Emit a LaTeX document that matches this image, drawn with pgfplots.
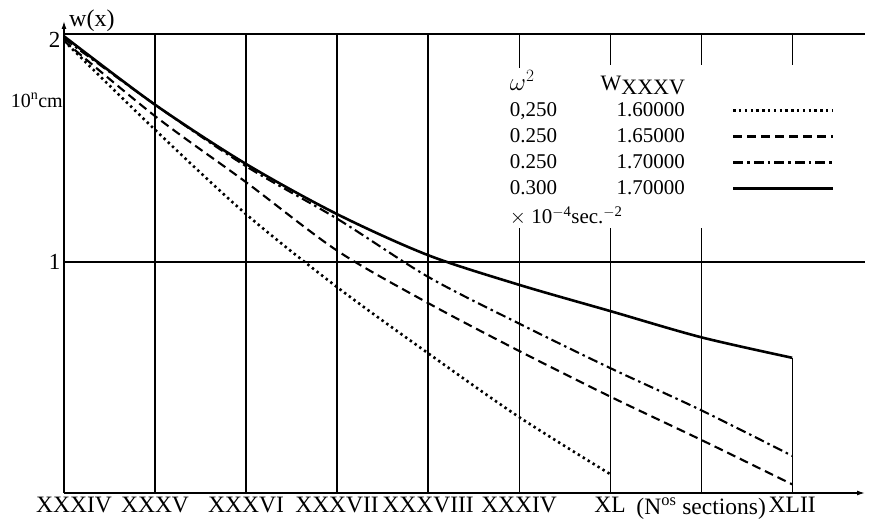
\documentclass[border=0pt]{standalone}
\usepackage{fontspec}
\setmainfont{Liberation Serif}
\usepackage{pgfplots}
\pgfplotsset{compat=1.18}
\usetikzlibrary{arrows.meta}
\begin{document}
\begin{tikzpicture}
\useasboundingbox (-64pt,-26pt) rectangle (808pt,493pt);
\begin{axis}[
  at={(0,0)}, anchor=south west,
  scale only axis, width=801pt, height=459pt,
  xmin=0, xmax=8.8, ymin=-0.013, ymax=2,
  clip=false,
  axis lines=left,
  axis line style={line width=1.4pt, -{Latex[length=8pt,width=5pt]}},
  y axis line style={shorten >=-13pt},
  xtick={1,...,8},
  xticklabels={XXXV,XXXVI,XXXVII,XXXVIII,XXXIV,XL,(N\textsuperscript{os} sections),XLII},
  extra x ticks={0},
  extra x tick labels={XXXIV},
  extra x tick style={xticklabel style={xshift=10pt}},
  ytick={1}, yticklabels={1},
  extra y ticks={2},
  extra y tick labels={2},
  extra y tick style={yticklabel style={yshift=-6pt}, grid=major},
  major tick length=0pt,
  ymajorgrids,
  grid style={black, line width=1.2pt},
  xticklabel style={font=\fontsize{23.5}{24}\selectfont, anchor=north, yshift=-1pt},
  yticklabel style={font=\fontsize{23}{24}\selectfont},
  legend style={draw=none, fill=none, at={(0.554,0.925)}, anchor=north west,
    font=\fontsize{21}{22}\selectfont, column sep=45pt, row sep=6.5pt, inner sep=0pt},
  legend cell align=left,
  legend plot pos=right,
  legend image code/.code={\draw[#1] (0pt,0pt) -- (100pt,0pt);},
]
% vertical grid lines (interrupted behind the legend as in the reference)
\draw[black, line width=1.2pt] (axis cs:1,-0.013) -- (axis cs:1,2);
\draw[black, line width=1.2pt] (axis cs:2,-0.013) -- (axis cs:2,2);
\draw[black, line width=1.2pt] (axis cs:3,-0.013) -- (axis cs:3,2);
\draw[black, line width=1.2pt] (axis cs:4,-0.013) -- (axis cs:4,2);
\draw[black, line width=1.2pt] (axis cs:5,-0.013) -- (axis cs:5,1.15);
\draw[black, line width=1.2pt] (axis cs:6,-0.013) -- (axis cs:6,1.15);
\draw[black, line width=1.2pt] (axis cs:7,-0.013) -- (axis cs:7,1.15);
\draw[black, line width=1.2pt] (axis cs:8,-0.013) -- (axis cs:8,0.58);
\draw[black, line width=1.2pt] (axis cs:5,2) -- (axis cs:5,1.85);
\draw[black, line width=1.2pt] (axis cs:6,2) -- (axis cs:6,1.865);
\draw[black, line width=1.2pt] (axis cs:7,2) -- (axis cs:7,1.865);
\draw[black, line width=1.2pt] (axis cs:8,2) -- (axis cs:8,1.865);
\addlegendimage{empty legend}
\addlegendentry{\makebox[175pt][l]{\fontsize{25}{25}\selectfont$\omega^2$\hfill\fontsize{22}{22}\selectfont W\raisebox{-4pt}[\height][0pt]{XXXV}}}
\addplot[black, line width=2.6pt, dash pattern=on 2.4pt off 3.4pt, smooth]
  coordinates {(0,1.97)(1,1.58)(2,1.21)(3,0.89)(4,0.60)(5,0.32)(6,0.07)};
\addlegendentry{\makebox[175pt][l]{0,250\hfill 1.60000}}
\addplot[black, line width=2.1pt, dash pattern=on 9pt off 5pt, smooth]
  coordinates {(0,1.97)(1,1.64)(2,1.35)(3,1.05)(4,0.82)(5,0.61)(6,0.41)(7,0.22)(8,0.025)};
\addlegendentry{\makebox[175pt][l]{0.250\hfill 1.65000}}
\addplot[black, line width=2.1pt, dash pattern=on 10pt off 4pt on 2.5pt off 4pt, smooth]
  coordinates {(0,1.98)(1,1.69)(2,1.42)(3,1.19)(4,0.935)(5,0.73)(6,0.535)(7,0.35)(8,0.15)};
\addlegendentry{\makebox[175pt][l]{0.250\hfill 1.70000}}
\addplot[black, line width=2.6pt, smooth]
  coordinates {(0,1.99)(1,1.69)(2,1.43)(3,1.21)(4,1.03)(5,0.90)(6,0.785)(7,0.67)(8,0.58)};
\addlegendentry{\makebox[175pt][l]{0.300\hfill 1.70000}}
\addlegendimage{empty legend}
\addlegendentry{$\times$ 10\textsuperscript{$-$4}sec.\textsuperscript{$-$2}}
\node[anchor=east, font=\fontsize{20}{21}\selectfont, inner sep=1pt] at (axis cs:0,1.71) {10\textsuperscript{n}cm};
\node[anchor=base west, font=\fontsize{24}{24}\selectfont, inner sep=0pt] at (rel axis cs:0,1) [xshift=5pt, yshift=7pt] {w(x)};
\end{axis}
\end{tikzpicture}
\end{document}
